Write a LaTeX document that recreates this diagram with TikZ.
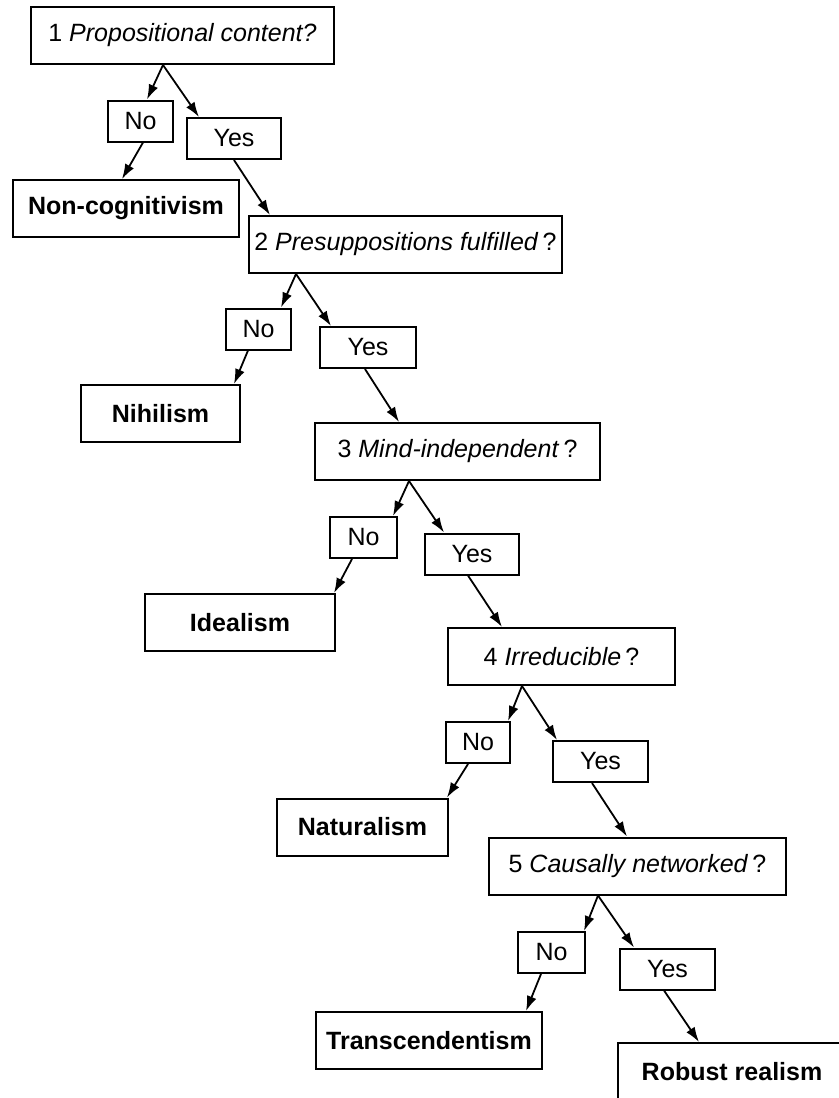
\documentclass[tikz,border=0pt]{standalone}
\usepackage{fontspec}
\setmainfont{Liberation Sans}
\usetikzlibrary{arrows.meta}

\begin{document}
\begin{tikzpicture}[
    x=0.5pt, y=-0.5pt,
    qbox/.style={rectangle, draw=black, line width=1pt, inner sep=0pt, minimum height=28.5pt, minimum width=#1, font=\fontsize{12.5}{15}\selectfont},
    ansbox/.style={rectangle, draw=black, line width=1pt, inner sep=0pt, minimum height=20.5pt, minimum width=#1, font=\fontsize{12.5}{15}\selectfont},
    endbox/.style={rectangle, draw=black, line width=1pt, inner sep=0pt, minimum height=28.5pt, minimum width=#1, font=\fontsize{12.5}{15}\selectfont\bfseries},
    arr/.style={-{Latex[length=7.5pt, width=5pt]}, line width=0.9pt}
]
\clip (0,0) rectangle (839,1098);

% questions
\node[qbox=151.5pt] (q1) at (182.5,35.5) {1 \textit{Propositional content?}};
\node[qbox=156.5pt] (q2) at (405.5,244.5) {2 \textit{Presuppositions fulfilled}\,?};
\node[qbox=142.5pt] (q3) at (457.5,451.5) {3 \textit{Mind-independent}\,?};
\node[qbox=113.5pt] (q4) at (561.5,656.5) {4 \textit{Irreducible}\,?};
\node[qbox=148.5pt] (q5) at (637.5,866) {5 \textit{Causally networked}\,?};

% answers
\node[ansbox=32.5pt] (no1) at (140.5,121) {No};
\node[ansbox=47pt] (yes1) at (234,138.5) {Yes};
\node[ansbox=32.5pt] (no2) at (258.5,329) {No};
\node[ansbox=48pt] (yes2) at (368,347.5) {Yes};
\node[ansbox=33.5pt] (no3) at (363.5,537.5) {No};
\node[ansbox=47pt] (yes3) at (472,554) {Yes};
\node[ansbox=32pt] (no4) at (478,742.5) {No};
\node[ansbox=47.5pt] (yes4) at (600.5,761.5) {Yes};
\node[ansbox=33.5pt] (no5) at (551.5,952.5) {No};
\node[ansbox=47.5pt] (yes5) at (667.5,969) {Yes};

% positions
\node[endbox=113pt] (noncog) at (126,208.5) {Non-cognitivism};
\node[endbox=79.5pt] (nihil) at (160.5,413.5) {Nihilism};
\node[endbox=95pt] (ideal) at (240,622.5) {Idealism};
\node[endbox=85.5pt] (natur) at (362.5,827) {Naturalism};
\node[endbox=113pt] (trans) at (429,1040.5) {Transcendentism};
\node[endbox=114pt] (robust) at (732,1071.5) {Robust realism};

\draw[arr] ([xshift=-9.75pt]q1.south) -- ([xshift=3.25pt]no1.north);
\draw[arr] ([xshift=-9.75pt]q1.south) -- ([xshift=6.5pt]yes1.north west);
\draw[arr] ([xshift=1.25pt]no1.south) -- ([xshift=-2pt]noncog.north);
\draw[arr] (yes1.south) -- ([xshift=11pt]q2.north west);

\draw[arr] ([xshift=24pt]q2.south west) -- ([xshift=-5.5pt]no2.north east);
\draw[arr] ([xshift=24pt]q2.south west) -- ([xshift=6pt]yes2.north west);
\draw[arr] ([xshift=-5.25pt]no2.south) -- ([xshift=-3.5pt]nihil.north east);
\draw[arr] ([xshift=-1.5pt]yes2.south) -- ([xshift=42.5pt]q3.north west);

\draw[arr] ([xshift=47.5pt]q3.south west) -- ([xshift=-2.5pt]no3.north east);
\draw[arr] ([xshift=47.5pt]q3.south west) -- ([xshift=10pt]yes3.north west);
\draw[arr] ([xshift=-5.75pt]no3.south) -- ([xshift=-1pt]ideal.north east);
\draw[arr] ([xshift=-2pt]yes3.south) -- ([xshift=27.5pt]q4.north west);

\draw[arr] ([xshift=37.5pt]q4.south west) -- ([xshift=-1.5pt]no4.north east);
\draw[arr] ([xshift=37.5pt]q4.south west) -- ([xshift=2.5pt]yes4.north west);
\draw[arr] ([xshift=-5pt]no4.south) -- ([xshift=-1pt]natur.north east);
\draw[arr] ([xshift=-4.25pt]yes4.south) -- ([xshift=69.5pt]q5.north west);

\draw[arr] ([xshift=55pt]q5.south west) -- ([xshift=-1pt]no5.north east);
\draw[arr] ([xshift=55pt]q5.south west) -- ([xshift=7.5pt]yes5.north west);
\draw[arr] ([xshift=-5.25pt]no5.south) -- ([xshift=-8.5pt]trans.north east);
\draw[arr] ([xshift=-1.75pt]yes5.south) -- ([xshift=41pt]robust.north west);

\end{tikzpicture}
\end{document}
